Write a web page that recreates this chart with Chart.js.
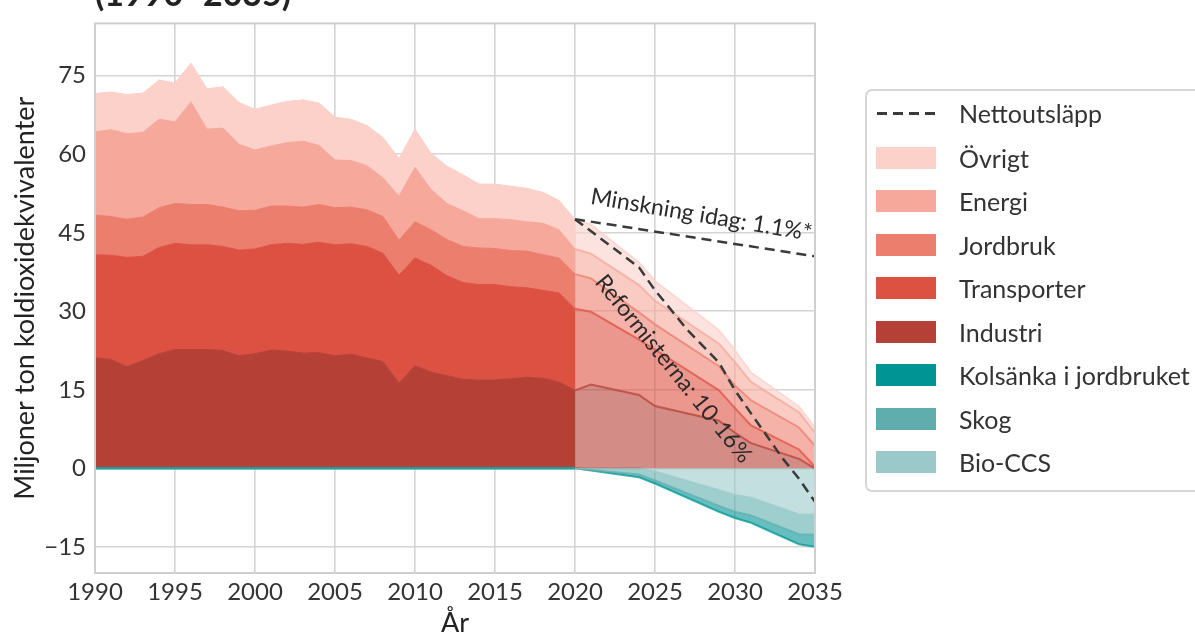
<!DOCTYPE html>
<html>
<head>
<meta charset="utf-8">
<script src="https://cdn.jsdelivr.net/npm/chart.js@4/dist/chart.umd.min.js"></script>
<style>
  html, body { margin: 0; padding: 0; background: #fff; }
  #wrap { position: relative; width: 1195px; height: 636px; overflow: hidden; }
  #c { position: absolute; left: 0; top: 0; }
  #legend {
    position: absolute; left: 865px; top: 89px; width: 420px; height: 403px;
    border: 2px solid #d6d6d6; border-radius: 7px; box-sizing: border-box;
    font-family: Lato, "Open Sans", sans-serif; font-weight: 400; font-size: 25px; color: #333;
  }
  .row { position: absolute; left: 0; height: 30px; display: flex; align-items: center; white-space: nowrap; }
  .sw { width: 60px; height: 22px; margin-left: 9px; margin-right: 23px; }
  .dash { width: 58px; height: 3px; margin-left: 10px; margin-right: 24px;
    background: repeating-linear-gradient(90deg, #3a3a3a 0 10px, transparent 10px 16px); }
</style>
</head>
<body>
<div id="wrap">
  <canvas id="c" width="1195" height="636"></canvas>
  <div id="legend"></div>
</div>
<script>
// historiska utsläpp 1990-2020, Mt CO2e per sektor
var histYears = [1990, 1991, 1992, 1993, 1994, 1995, 1996, 1997, 1998, 1999,
                 2000, 2001, 2002, 2003, 2004, 2005, 2006, 2007, 2008, 2009,
                 2010, 2011, 2012, 2013, 2014, 2015, 2016, 2017, 2018, 2019, 2020]
var industri    = [21.1, 20.8, 19.4, 20.6, 21.9, 22.7, 22.7, 22.7, 22.5, 21.5,
                   21.9, 22.6, 22.4, 22.0, 22.1, 21.5, 21.8, 21.1, 20.4, 16.3,
                   19.6, 18.4, 17.7, 17.0, 16.9, 16.9, 17.1, 17.4, 17.2, 16.5, 14.9]
var transporter = [19.7, 19.9, 20.9, 19.9, 20.3, 20.3, 20.0, 20.0, 19.9, 20.2,
                   20.0, 20.1, 20.6, 20.8, 21.1, 21.2, 21.1, 21.3, 20.7, 20.6,
                   20.6, 20.4, 19.1, 18.5, 18.2, 18.2, 17.6, 17.1, 16.8, 17.0, 15.6]
var jordbruk    = [7.6, 7.4, 7.3, 7.5, 7.6, 7.6, 7.7, 7.7, 7.5, 7.5,
                   7.4, 7.4, 7.1, 7.1, 7.2, 7.1, 7.0, 7.0, 7.0, 6.7,
                   6.9, 6.8, 6.9, 6.9, 7.0, 6.9, 6.9, 7.0, 6.8, 6.7, 6.6]
var energi      = [15.9, 16.6, 16.3, 16.2, 16.9, 15.6, 19.6, 14.4, 15.1, 12.7,
                   11.5, 11.5, 12.1, 12.6, 11.3, 9.1, 8.9, 8.4, 7.4, 8.4,
                   10.4, 7.7, 6.9, 6.8, 5.6, 5.7, 5.9, 5.6, 6.0, 5.4, 4.8]
var ovrigt      = [7.3, 7.2, 7.5, 7.5, 7.5, 7.4, 7.4, 7.7, 7.9, 8.0,
                   7.8, 7.8, 7.9, 7.9, 8.1, 8.2, 7.9, 7.7, 7.7, 7.2,
                   7.3, 6.9, 7.1, 6.9, 6.6, 6.6, 6.4, 6.4, 5.9, 5.6, 5.7]

// Reformisternas scenario 2020-2035
var projYears       = [2020, 2021, 2024, 2025, 2029, 2030, 2031, 2034, 2035]
var projIndustri    = [14.9, 16.0, 14.0, 11.9, 9.1, 6.8, 4.8, 1.8, 0]
var projTransporter = [15.6, 13.9, 10.6, 10.8, 5.8, 4.7, 3.4, 1.8, 0.3]
var projJordbruk    = [6.6, 6.4, 5.2, 4.8, 4.6, 4.3, 4.8, 4.2, 4.0]
var projEnergi      = [4.8, 4.7, 5.2, 4.5, 4.3, 4.5, 3.5, 2.9, 2.5]
var projOvrigt      = [5.7, 5.6, 4.3, 3.8, 2.6, 2.3, 1.8, 1.1, 1.0]
var projBioCCS      = [0, 0, 0, -0.6, -4.2, -5.1, -5.6, -8.8, -8.8]
var projSkog        = [0, -0.3, -1.2, -1.7, -3.0, -3.2, -3.4, -3.8, -3.9]
var projKolsanka    = [0, -0.1, -0.5, -0.6, -1.1, -1.2, -1.4, -1.9, -2.3]

// sänkor historiskt
var sinkYears  = [1990, 2020]
var sinkValues = [0, 0]

// nettoutsläpp
var trendYears  = [2020, 2035]
var trendValues = [47.6, 40.5]
var nettoYears  = [2020, 2024, 2025, 2026, 2027, 2029, 2030, 2031, 2033, 2034, 2035]
var nettoValues = [47.6, 38.4, 34.0, 30.3, 26.5, 20.2, 14.9, 10.5, 1.8, -2.0, -6.4]

var xTicks = [1990, 1995, 2000, 2005, 2010, 2015, 2020, 2025, 2030, 2035]
var yTicks = [-15, 0, 15, 30, 45, 60, 75]

var legendNames  = ['Övrigt', 'Energi', 'Jordbruk', 'Transporter', 'Industri', 'Kolsänka i jordbruket', 'Skog', 'Bio-CCS']
var legendColors = ['#fcd1ca', '#f6a89b', '#ec7e6e', '#dd5143', '#b54036', '#009494', '#5fadad', '#9bc9c9']

var FONT = 'Lato, "Open Sans", sans-serif'
var TEXT = '#333'

function pts(xs, ys) {
  return xs.map(function (x, i) { return {x: x, y: ys[i]} })
}
function rgba(hex, a) {
  var n = parseInt(hex.slice(1), 16)
  return 'rgba(' + (n >> 16) + ',' + ((n >> 8) & 255) + ',' + (n & 255) + ',' + a + ')'
}
function area(data, color, fill, stack) {
  return { data: data, backgroundColor: color, borderColor: color, borderWidth: 1,
           fill: fill, stack: stack, pointRadius: 0, tension: 0, order: 3 }
}
function projArea(data, color, fill, stack) {
  return { data: data, backgroundColor: rgba(color, 0.6), borderColor: rgba(color, 0.75), borderWidth: 2,
           fill: fill, stack: stack, pointRadius: 0, tension: 0, order: 2 }
}

var datasets = [
  area(pts(histYears, industri),    legendColors[4], 'origin', 'hist'),
  area(pts(histYears, transporter), legendColors[3], '-1', 'hist'),
  area(pts(histYears, jordbruk),    legendColors[2], '-1', 'hist'),
  area(pts(histYears, energi),      legendColors[1], '-1', 'hist'),
  area(pts(histYears, ovrigt),      legendColors[0], '-1', 'hist'),
  projArea(pts(projYears, projIndustri),    legendColors[4], 'origin', 'proj'),
  projArea(pts(projYears, projTransporter), legendColors[3], '-1', 'proj'),
  projArea(pts(projYears, projJordbruk),    legendColors[2], '-1', 'proj'),
  projArea(pts(projYears, projEnergi),      legendColors[1], '-1', 'proj'),
  projArea(pts(projYears, projOvrigt),      legendColors[0], '-1', 'proj'),
  projArea(pts(projYears, projBioCCS),   legendColors[7], 'origin', 'neg'),
  projArea(pts(projYears, projSkog),     legendColors[6], '-1', 'neg'),
  projArea(pts(projYears, projKolsanka), legendColors[5], '-1', 'neg'),
  { data: pts(sinkYears, sinkValues), borderColor: '#1a9e9e', borderWidth: 2.5, fill: false,
    stack: 'sink', pointRadius: 0, order: 1 },
  { data: pts(trendYears, trendValues), borderColor: '#3a3a3a', borderWidth: 2.5, borderDash: [10, 6],
    fill: false, stack: 'trend', pointRadius: 0, order: 0 },
  { data: pts(nettoYears, nettoValues), borderColor: '#3a3a3a', borderWidth: 2.5, borderDash: [10, 6],
    fill: false, stack: 'netto', pointRadius: 0, order: 0 }
]

var notes = [
  { text: 'Minskning idag: 1.1%*', x: 2027.9, y: 48.4, angle: 9.5 },
  { text: 'Reformisterna: 10-16%', x: 2026.15, y: 19.0, angle: 51 }
]

var overlay = {
  id: 'overlay',
  afterDatasetsDraw: function (chart) {
    var ctx = chart.ctx, a = chart.chartArea, sx = chart.scales.x, sy = chart.scales.y
    ctx.save()
    ctx.strokeStyle = '#cfcfcf'
    ctx.lineWidth = 2
    ctx.strokeRect(a.left, a.top, a.right - a.left, a.bottom - a.top)

    ctx.fillStyle = '#2a2a2a'
    ctx.font = '400 23px ' + FONT
    ctx.textAlign = 'center'
    ctx.textBaseline = 'middle'
    notes.forEach(function (n) {
      ctx.save()
      ctx.translate(sx.getPixelForValue(n.x), sy.getPixelForValue(n.y))
      ctx.rotate(n.angle * Math.PI / 180)
      ctx.fillText(n.text, 0, 0)
      ctx.restore()
    })

    // rubriken är avskuren i originalet
    ctx.fillStyle = '#222'
    ctx.font = 'bold 34px ' + FONT
    ctx.textAlign = 'left'
    ctx.textBaseline = 'alphabetic'
    ctx.fillText('(1990–2035)', 95, 6)
    ctx.restore()
  }
}

var tickFont = { family: FONT, size: 24, weight: 400 }

new Chart(document.getElementById('c'), {
  type: 'line',
  data: { datasets: datasets },
  options: {
    responsive: false,
    animation: false,
    devicePixelRatio: 1,
    layout: { padding: { top: 13, right: 380, left: 0, bottom: 0 } },
    plugins: { legend: { display: false }, tooltip: { enabled: false } },
    scales: {
      x: {
        type: 'linear', min: 1990, max: 2035,
        afterBuildTicks: function (s) { s.ticks = xTicks.map(function (v) { return {value: v} }) },
        afterFit: function (s) { s.height = 63 },
        grid: { color: '#d4d4d4', lineWidth: 1.6, drawTicks: false },
        border: { display: false },
        ticks: { font: tickFont, color: TEXT, padding: 5, maxRotation: 0,
                 callback: function (v) { return String(v) } },
        title: { display: true, text: 'År', font: { family: FONT, size: 27, weight: 400 }, color: '#222',
                 padding: { top: 0, bottom: -3 } }
      },
      y: {
        stacked: true, min: -20, max: 85,
        afterBuildTicks: function (s) { s.ticks = yTicks.map(function (v) { return {value: v} }) },
        afterFit: function (s) { s.width = 95 },
        grid: { color: '#d4d4d4', lineWidth: 1.6, drawTicks: false },
        border: { display: false },
        ticks: { font: tickFont, color: TEXT, padding: 9,
                 callback: function (v) { return String(v).replace('-', '−') } },
        title: { display: true, text: 'Miljoner ton koldioxidekvivalenter',
                 font: { family: FONT, size: 27, weight: 400 }, color: '#222',
                 padding: { top: 9, bottom: 0 } }
      }
    }
  },
  plugins: [overlay]
})

// förklaring
var legend = document.getElementById('legend')
var rows = [{ name: 'Nettoutsläpp', dash: true }].concat(legendNames.map(function (n, i) {
  return { name: n, color: legendColors[i] }
}))
rows.forEach(function (r, i) {
  var row = document.createElement('div')
  row.className = 'row'
  row.style.top = (23 + i * 43.5 - 15 + (i === 0 ? -1 : 0)) + 'px'
  var mark = document.createElement('div')
  if (r.dash) {
    mark.className = 'dash'
  } else {
    mark.className = 'sw'
    mark.style.background = r.color
  }
  var label = document.createElement('span')
  label.textContent = r.name
  row.appendChild(mark)
  row.appendChild(label)
  legend.appendChild(row)
})
</script>
</body>
</html>
